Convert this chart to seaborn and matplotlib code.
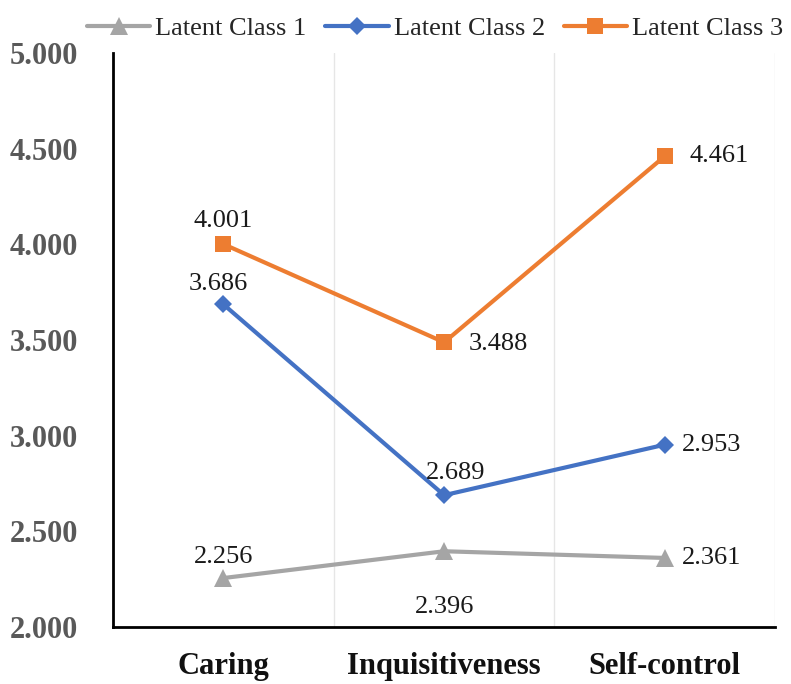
import pandas as pd
import matplotlib
matplotlib.use('Agg')
import matplotlib.pyplot as plt
import seaborn as sns

categories = ['Caring', 'Inquisitiveness', 'Self-control']
class1 = [2.256, 2.396, 2.361]
class2 = [3.686, 2.689, 2.953]
class3 = [4.001, 3.488, 4.461]
series_names = ['Latent Class 1', 'Latent Class 2', 'Latent Class 3']

sns.set_style('white')
plt.rcParams['font.family'] = ['Liberation Serif', 'DejaVu Serif']

df = pd.DataFrame({
    'dimension': categories * 3,
    'score': class1 + class2 + class3,
    'cls': [n for n in series_names for _ in categories],
})

colors = {'Latent Class 1': '#A5A5A5', 'Latent Class 2': '#4472C4', 'Latent Class 3': '#ED7D31'}
markers = {'Latent Class 1': '^', 'Latent Class 2': 'D', 'Latent Class 3': 's'}
msize = {'Latent Class 1': 13, 'Latent Class 2': 9.5, 'Latent Class 3': 11.5}

fig = plt.figure(figsize=(7.91, 6.84), dpi=100)
ax = fig.add_axes([0.143, 0.0833, 0.837, 0.8392])

for name in series_names:
    sub = df[df.cls == name]
    sns.lineplot(data=sub, x='dimension', y='score', color=colors[name], marker=markers[name],
                 markersize=msize[name], markeredgewidth=0, linewidth=3, label=name, ax=ax, sort=False)

# data labels: (dx, dy, ha, va) in points
offsets = {
    'Latent Class 1': [(0, 7, 'center', 'bottom'), (0, -32, 'center', 'top'), (12, 0, 'left', 'center')],
    'Latent Class 2': [(-4, 7, 'center', 'bottom'), (8, 8, 'center', 'bottom'), (12, 0, 'left', 'center')],
    'Latent Class 3': [(0, 9, 'center', 'bottom'), (18, -1, 'left', 'center'), (18, 0, 'left', 'center')],
}
for name, vals in zip(series_names, [class1, class2, class3]):
    for i, v in enumerate(vals):
        dx, dy, ha, va = offsets[name][i]
        ax.annotate(f'{v:.3f}', (i, v), xytext=(dx, dy), textcoords='offset points',
                    ha=ha, va=va, fontsize=19, color='#1a1a1a')

ax.set_xlim(-0.5, 2.5)
ax.set_ylim(2, 5)
ax.set_yticks([2, 2.5, 3, 3.5, 4, 4.5, 5])
ax.set_yticklabels([f'{t:.3f}' for t in ax.get_yticks()], fontsize=22, fontweight='bold', color='#595959')
ax.set_xticks(range(len(categories)))
ax.set_xticklabels(categories, fontsize=22, fontweight='bold', color='#111111')
ax.tick_params(axis='x', length=0, pad=18)
ax.tick_params(axis='y', length=5, width=1.5, color='black', direction='out', pad=20)
ax.set_xticks([0.5, 1.5, 2.5], minor=True)
ax.tick_params(axis='x', which='minor', length=6, width=1.5, color='black', direction='in')
ax.grid(True, axis='x', which='minor', color='#e6e6e6', linewidth=1)
ax.set_xlabel('')
ax.set_ylabel('')

for s in ['top', 'right']:
    ax.spines[s].set_visible(False)
for s in ['left', 'bottom']:
    ax.spines[s].set_color('black')
    ax.spines[s].set_linewidth(2)

ax.get_legend().remove()
handles, labels = ax.get_legend_handles_labels()
fig.legend(handles, labels, loc='upper center', bbox_to_anchor=(0.55, 1.01), ncol=3, frameon=False,
           fontsize=19, handlelength=2.4, columnspacing=0.7, handletextpad=0.2)

fig.savefig('out.png', dpi=100)
